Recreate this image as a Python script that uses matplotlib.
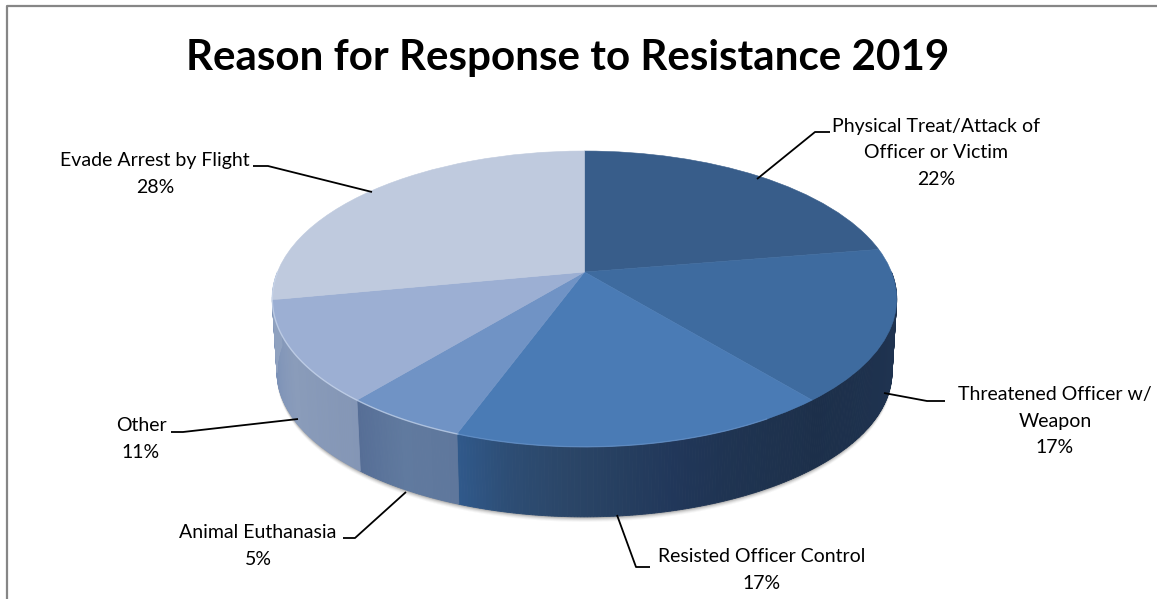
import numpy as np
import matplotlib
matplotlib.use("Agg")
import matplotlib.pyplot as plt
from matplotlib.transforms import Transform
from matplotlib.colors import to_rgb

# ---------- data ----------
categories = ["Physical Treat/Attack of\nOfficer or Victim", "Threatened Officer w/\nWeapon",
              "Resisted Officer Control", "Animal Euthanasia", "Other", "Evade Arrest by Flight"]
values = [22.4, 16.6, 16.6, 5.4, 11.0, 28.0]
title = "Reason for Response to Resistance 2019"

# ---------- styles ----------
top_colors = ["#385d8a", "#3e6b9f", "#4a7bb5", "#7093c5", "#9cafd3", "#bfcade"]
wall_stops = [["#1d3049", "#1d3049"],
              ["#1c2f4a", "#1f3350", "#1c2f4a"],
              ["#1d304b", "#1e324e", "#1f3452", "#21375a", "#263f60", "#2b4668", "#2d4d74", "#30598b"],
              ["#5f779c", "#607a9f", "#566e96"],
              ["#8496b6", "#8a9cbb", "#7a90b6"],
              ["#8fa1bf", "#8fa1bf"]]
W, H = 1157, 599
AX, AY = 584.5, 272.0     # pie apex in pixels
RX, RY, K = 307.0, 143.0, 0.182
DROP, SX, SY = 73.0, 0.985, 0.98
YC = -28.0               # ellipse centre relative to apex
FONT = "Lato"


class Perspective(Transform):
    input_dims = output_dims = 2

    def transform_non_affine(self, xy):
        xy = np.asarray(xy, float)
        w = 1 + K * xy[:, 1]
        return np.column_stack([AX + RX * xy[:, 0] / w, AY - RY * xy[:, 1] / w])


persp = Perspective()


def rim(theta):
    """theta in degrees clockwise from 12 o'clock -> top and bottom rim pixels"""
    t = np.radians(theta)
    p = persp.transform_non_affine(np.column_stack([np.sin(t), np.cos(t)]))
    xt, yt = p[:, 0], p[:, 1]
    xb = AX + (xt - AX) * SX
    yb = (AY - YC) + (yt - (AY - YC)) * SY + DROP
    return xt, yt, xb, yb


def interp_color(stops, f):
    c = np.array([to_rgb(s) for s in stops])
    pos = np.linspace(0, 1, len(stops))
    return tuple(np.interp(f, pos, c[:, i]) for i in range(3))


fig = plt.figure(figsize=(W / 100, H / 100), dpi=100)
ax = fig.add_axes([0, 0, 1, 1])

edges = np.concatenate([[0], np.cumsum(values)]) / sum(values) * 360.0

# soft shadow below the wall
th = np.linspace(90, 270, 200)
xt, yt, xb, yb = rim(th)
for d, a in zip([5, 4, 3, 2, 1], [0.04, 0.06, 0.09, 0.12, 0.16]):
    ax.fill(np.r_[xb, xt[::-1]], np.r_[yb + d, yt[::-1]], color="#303030", alpha=a, lw=0, zorder=1)

# side wall, drawn as thin gradient strips per slice
for i in range(len(values)):
    a0, a1 = edges[i], edges[i + 1]
    vis0, vis1 = max(a0, 90.0), min(a1, 270.0)
    if vis1 <= vis0:
        continue
    n = max(int((vis1 - vis0) * 2), 2)
    tt = np.linspace(vis0, vis1, n + 1)
    for j in range(n):
        seg = np.linspace(tt[j], tt[j + 1], 3)
        xt, yt, xb, yb = rim(seg)
        col = interp_color(wall_stops[i], (seg[1] - a0) / (a1 - a0))
        ax.fill(np.r_[xt, xb[::-1]], np.r_[yt, yb[::-1]], color=col, lw=0.6, ec=col, zorder=2)

# top face: a real pie, projected through the perspective transform
wedges, _ = ax.pie(values, colors=top_colors, startangle=90, counterclock=False,
                   wedgeprops=dict(linewidth=0.4))
for wd, c in zip(wedges, top_colors):
    wd.set_edgecolor(c)
    wd.set_transform(persp + ax.transData)
    wd.set_zorder(3)

# pale bevel along the lower-left rim
th = np.linspace(200, 270, 80)
xt, yt, _, _ = rim(th)
ax.plot(xt, yt, color="#cfdcf0", lw=1.0, alpha=0.65, zorder=4)
th = np.linspace(150, 200, 40)
xt, yt, _, _ = rim(th)
ax.plot(xt, yt, color="#6f9ad0", lw=0.9, alpha=0.6, zorder=4)

ax.set_aspect("auto")
ax.set_xlim(0, W)
ax.set_ylim(H, 0)
ax.set_axis_off()

# title
ax.text(568, 58, title, ha="center", va="center", fontsize=30.3, fontweight="bold",
        color="black", family=FONT, zorder=6)

# labels
label_pos = [(936, 153), (1055, 421), (762, 570), (258, 546), (141, 439), (155, 174)]
for name, v, (lx, ly) in zip(categories, values, label_pos):
    ax.text(lx, ly, f"{name}\n{v:.0f}%", ha="center", va="center", fontsize=14.0,
            linespacing=1.66, color="black", family=FONT, zorder=6)

# leader lines
leaders = [[(830, 132), (815, 132), (757, 179)],
           [(945, 401), (927, 401), (884, 393)],
           [(650, 567), (636, 567), (617, 515)],
           [(343, 538), (355, 538), (406, 492)],
           [(171, 432), (183, 432), (298, 419)],
           [(253, 166), (268, 166), (372, 192)]]
for ld in leaders:
    ax.plot(*zip(*ld), color="black", lw=1.3, zorder=5, solid_capstyle="butt")

# chart frame: top and left edges only reach the image
ax.plot([7, 7, W], [H, 6, 6], color="#868686", lw=1.6, zorder=7, clip_on=False)

fig.savefig("out.png", dpi=100)
